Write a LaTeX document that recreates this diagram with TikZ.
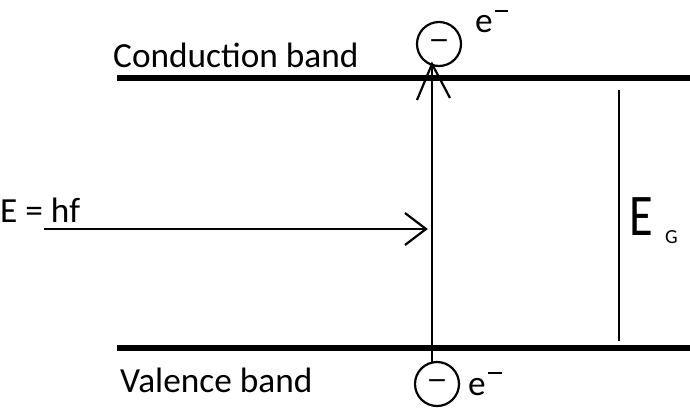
\documentclass[tikz,border=0pt]{standalone}
\usepackage{fontspec}
\setmainfont{Carlito}
\newfontfamily\dejavu{DejaVu Sans}
\begin{document}
\begin{tikzpicture}[x=1pt,y=-1pt,
  band/.style={line width=6pt},
  thin/.style={line width=2.2pt},
  lbl/.style={inner sep=0pt,font=\fontsize{35.3}{40}\selectfont},
  elec/.style={circle,draw,line width=2.2pt,minimum size=44pt,inner sep=0pt,font=\dejavu\fontsize{25}{25}\selectfont},
  open/.style={thin,line join=miter}]
\useasboundingbox (0,0) rectangle (690,408);
% bands
\coordinate (cbL) at (117,78); \coordinate (cbR) at (690,78);
\coordinate (vbL) at (117,348); \coordinate (vbR) at (690,348);
\draw[band] (cbL) -- (cbR);
\draw[band] (vbL) -- (vbR);
\node[lbl,anchor=base west] (cbt) at (113,67) {Conduction band};
\node[lbl,anchor=base west] (vbt) at (120,392) {Valence band};
% electrons
\node[elec] (etop) at (439,44) {−};
\node[elec] (ebot) at (437,384) {−};
\node[lbl,anchor=base west] (etopt) at (475,32) {e};
\draw[line width=2.5pt] (495,11) -- (508,11);
\node[lbl,anchor=base west] (ebott) at (468,395) {e};
\draw[line width=2.5pt] (488,373) -- (502,373);
% vertical transition arrow
\coordinate (vtop) at (432,64);
\coordinate (vbot) at (432,362);
\draw[thin] (vbot) -- (vtop);
\draw[open] (417,100) -- (vtop) -- (450,98);
% photon arrow
\node[lbl,anchor=base west] (eq) at (0,222) {E = hf};
\coordinate (ps) at (44,229);
\coordinate (pe) at (426,229);
\draw[thin] (ps) -- (pe);
\draw[open] (405,213) -- (pe) -- (405,245);
% band gap
\coordinate (gt) at (619,90);
\coordinate (gb) at (619,341);
\draw[thin] (gt) -- (gb);
\node[inner sep=0pt,anchor=base west,xscale=0.82,font=\fontsize{59}{60}\selectfont] (eg) at (629,235) {E};
\node[inner sep=0pt,anchor=base west,font=\fontsize{20}{20}\selectfont] (g) at (665,243) {G};
\end{tikzpicture}
\end{document}
